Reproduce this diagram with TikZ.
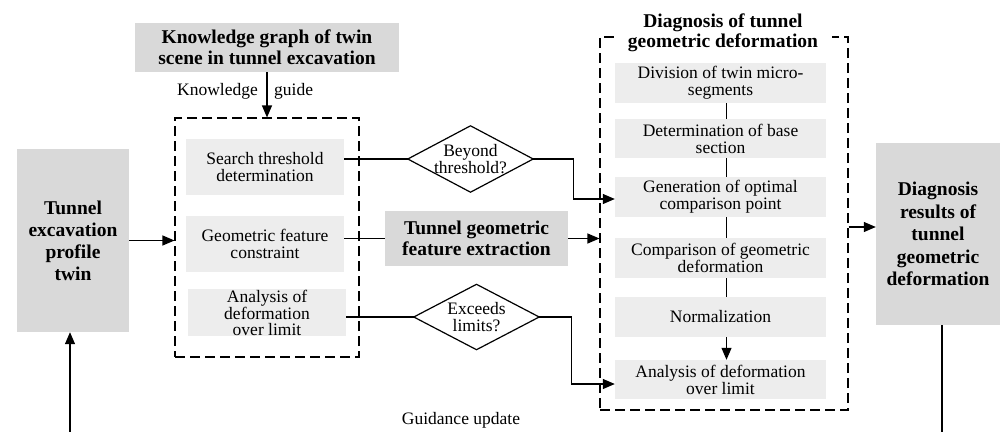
\documentclass[tikz,border=0pt]{standalone}
\usepackage{fontspec}
\setmainfont{Liberation Serif}
\usetikzlibrary{arrows.meta,calc}
\definecolor{boxdark}{HTML}{D9D9D9}
\definecolor{boxlight}{HTML}{EDEDED}
\newcommand\txtbody{\fontsize{17.5}{17}\selectfont}
\newcommand\txtbold{\fontsize{19.5}{21}\selectfont\bfseries}

\begin{document}
\begin{tikzpicture}[x=1pt,y=-1pt,
  darkbox/.style={fill=boxdark,inner sep=0pt,align=center,font=\txtbold},
  lightbox/.style={fill=boxlight,inner sep=0pt,align=center,font=\txtbody},
  rbox/.style={lightbox,minimum width=211pt,minimum height=40pt},
  lbox/.style={lightbox,minimum width=158pt,minimum height=56pt},
  dashbox/.style={draw,line width=1.1pt,dash pattern=on 10pt off 5pt,inner sep=0pt},
  decision/.style={inner sep=0pt,align=center,font=\txtbody},
  plain/.style={inner sep=0pt,font=\txtbody},
  conn/.style={line width=1.2pt},
  arr/.style={-{Triangle[length=12pt,width=10pt]}}
]
\useasboundingbox (0,0) rectangle (1001,431);
\clip (0,0) rectangle (1001,431);

% outer frames of the two stages
\node[dashbox,minimum width=184pt,minimum height=239pt] (ld) at (267,237.5) {};
\node[dashbox,minimum width=248pt,minimum height=373pt] (rd) at (724,223.5) {};
\node[fill=white,inner sep=0pt,minimum width=218pt,align=center,
      font=\fontsize{19.5}{20}\selectfont\bfseries] (rtitle) at (723,33)
      {Diagnosis of tunnel\\geometric deformation};

% main blocks
\node[darkbox,minimum width=264pt,minimum height=49pt] (kg) at (267,47.5)
  {Knowledge graph of twin\\scene in tunnel excavation};
\node[darkbox,minimum width=112pt,minimum height=183pt,
      font=\fontsize{19.5}{22}\selectfont\bfseries] (tp) at (73,240.5)
  {Tunnel\\excavation\\profile\\twin};
\node[darkbox,minimum width=183pt,minimum height=55pt] (tgf) at (476.5,238.5)
  {Tunnel geometric\\feature extraction};
\node[darkbox,minimum width=124pt,minimum height=182pt,
      font=\fontsize{19.5}{22.5}\selectfont\bfseries] (res) at (938,234)
  {Diagnosis\\results of\\tunnel\\geometric\\deformation};

% knowledge-guided constraints
\node[lbox] (s1) at (265,167) {Search threshold\\determination};
\node[lbox] (s2) at (265,244) {Geometric feature\\constraint};
\node[lightbox,minimum width=158pt,minimum height=47pt,
      font=\fontsize{17.5}{16}\selectfont] (s3) at (267,312.5)
  {Analysis of\\deformation\\over limit};

% decisions
\node[decision,minimum width=125pt,minimum height=66pt] (d1) at (470.5,159) {Beyond\\threshold?};
\node[decision,minimum width=125pt,minimum height=65pt] (d2) at (476.5,317) {Exceeds\\limits?};
\draw[conn] (d1.west) -- (d1.north) -- (d1.east) -- (d1.south) -- cycle;
\draw[conn] (d2.west) -- (d2.north) -- (d2.east) -- (d2.south) -- cycle;

% diagnosis steps
\node[rbox] (r1) at (720.5,83) {Division of twin micro-\\segments};
\node[rbox,minimum height=39pt] (r2) at (720.5,138.5) {Determination of base\\section};
\node[rbox] (r3) at (720.5,197) {Generation of optimal\\comparison point};
\node[rbox] (r4) at (720.5,258) {Comparison of geometric\\deformation};
\node[rbox] (r5) at (720.5,317) {Normalization};
\node[rbox,minimum height=39pt] (r6) at (720.5,379.5) {Analysis of deformation\\over limit};

% labels
\node[plain,anchor=base east] (klab) at (258,95) {Knowledge};
\node[plain,anchor=base west] (glab) at (274,95) {guide};
\node[plain,anchor=base] (gu) at (461,424) {Guidance update};

% connectors
\draw[conn,arr] (kg.south) -- (ld.north);
\draw[conn,arr] (tp.east) -- (tp.east -| ld.west);
\draw[conn] (d1.west -| s1.east) -- (d1.west);
\draw[conn] (tgf.west -| s2.east) -- (tgf.west);
\draw[conn] (d2.west -| s3.east) -- (d2.west);
\draw[conn,arr] (tgf.east) -- (tgf.east -| rd.west);

\coordinate (r3in) at ([yshift=-2pt]r3.west);
\coordinate (r6in) at ([yshift=-4.5pt]r6.west);
\draw[conn,arr] (d1.east) -- ++(40,0) |- (r3in);
\draw[conn,arr] (d2.east) -- ++(32,0) |- (r6in);

\foreach \a/\b in {r1/r2,r2/r3,r3/r4,r4/r5}
  \draw[conn] ([xshift=6pt]\a.south) -- ([xshift=6pt]\b.north);
\draw[conn,arr] ([xshift=6pt]r5.south) -- ([xshift=6pt]r6.north);

\coordinate (resin) at ([yshift=7pt]res.west);
\draw[conn,arr] (rd.east |- resin) -- (resin);

% feedback loop
\draw[conn,arr] ([xshift=4pt]res.south) -- ++(0,130) -| ([xshift=-3pt]tp.south);
\end{tikzpicture}
\end{document}
